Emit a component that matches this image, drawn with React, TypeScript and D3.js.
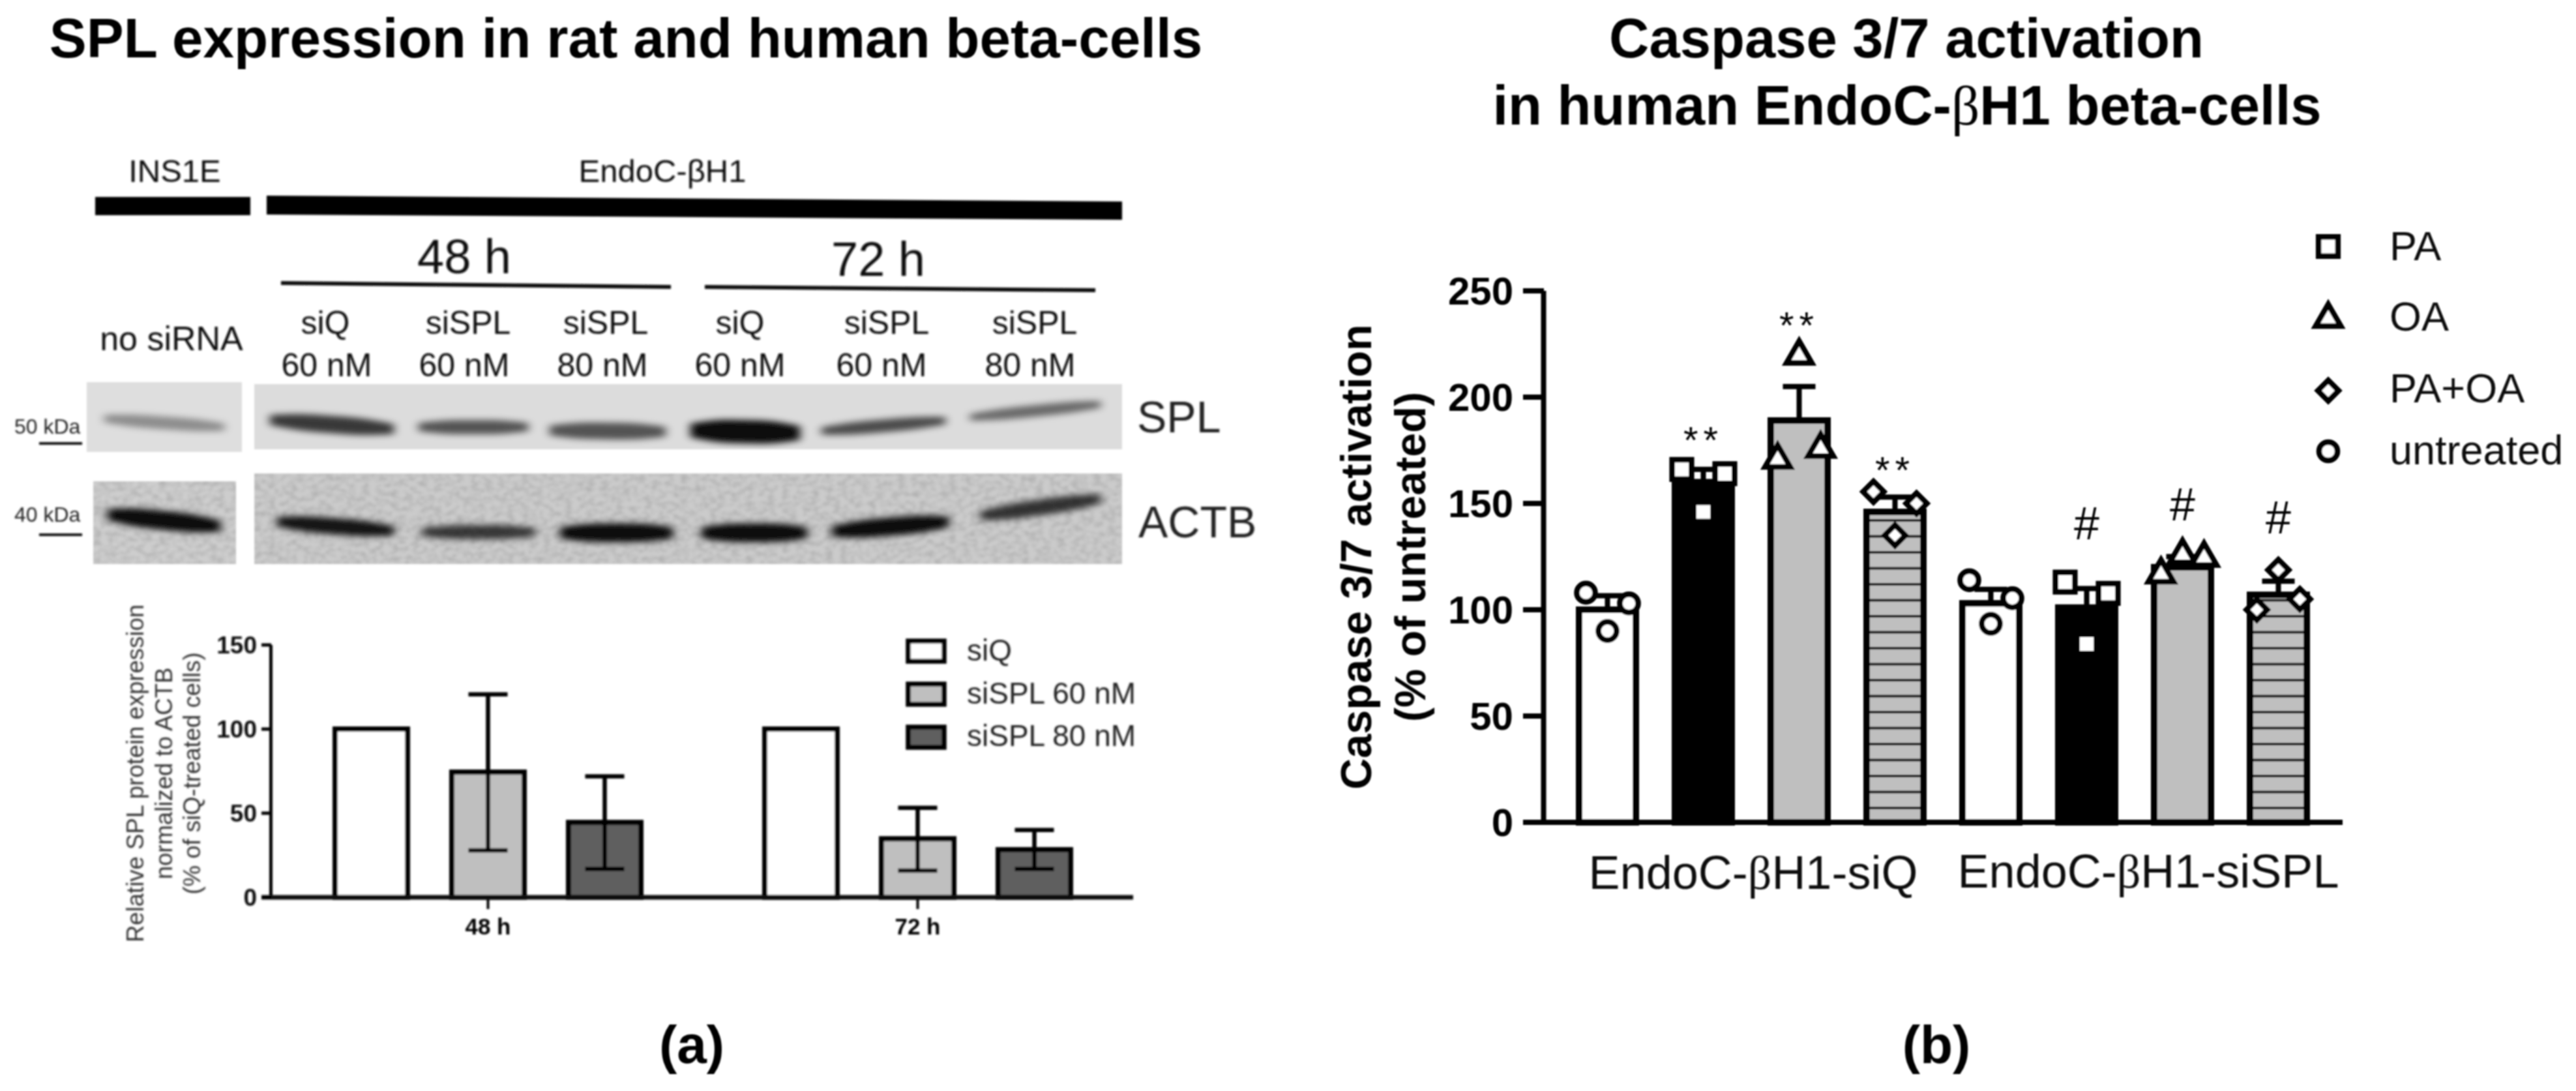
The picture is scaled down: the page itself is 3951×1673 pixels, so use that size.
import React from "react";
import * as d3 from "d3";

const FONT = "'Liberation Sans', Arial, sans-serif";

// Panel (a) chart
const timePoints = ["48 h", "72 h"];
const siSeries = ["siQ", "siSPL 60 nM", "siSPL 80 nM"];
const siFills = ["#ffffff", "#bfbfbf", "#5f5f5f"];
const splMean = [[100, 74.4, 44.5], [100, 34.8, 28.3]];
const splHigh = [[100, 120.6, 71.9], [100, 53.2, 40]];
const splLow = [[100, 27.9, 16.9], [100, 15.9, 16.9]];
const splTicks = [0, 50, 100, 150];

// Panel (a) blot bands: [x0, x1, y0, y1, thickness, darkness]
const splBands = [
  [160, 344, 642, 655, 20, 0.36],
  [414, 604, 644, 658, 27, 0.74],
  [642, 810, 655, 655, 22, 0.62],
  [843, 1021, 660, 662, 26, 0.62],
  [1059, 1227, 660, 664, 36, 0.95],
  [1260, 1450, 661, 645, 20, 0.66],
  [1488, 1688, 640, 620, 18, 0.52],
];
const actbBands = [
  [165, 338, 789, 807, 29, 0.95],
  [425, 604, 800, 814, 25, 0.9],
  [647, 821, 816, 816, 22, 0.72],
  [859, 1032, 817, 817, 29, 0.95],
  [1076, 1238, 817, 817, 29, 0.95],
  [1276, 1455, 815, 800, 28, 0.95],
  [1504, 1688, 791, 765, 24, 0.75],
];
const laneTop = ["siQ", "siSPL", "siSPL", "siQ", "siSPL", "siSPL"];
const laneBottom = ["60 nM", "60 nM", "80 nM", "60 nM", "60 nM", "80 nM"];

// Panel (b) chart
const caspaseBars = ["siQ-untreated", "siQ-PA", "siQ-OA", "siQ-PAOA", "siSPL-untreated", "siSPL-PA", "siSPL-OA", "siSPL-PAOA"];
const caspaseMean = [100, 160, 189, 146, 103, 101, 120, 107];
const caspaseErr = [106.6, 166, 205, 153, 109.6, 110, 125, 113.4];
const caspasePoints = [
  [108, 90, 103],
  [166, 146, 164],
  [170.6, 219.5, 175.7],
  [155.5, 135, 150],
  [113.9, 93.4, 105.4],
  [113, 83.9, 107.7],
  [116.6, 125.7, 124.4],
  [100, 118.7, 105],
];
const caspaseShapes = ["circle", "square", "triangle", "diamond", "circle", "square", "triangle", "diamond"];
const caspaseFills = ["#ffffff", "#000000", "#bfbfbf", "hatch", "#ffffff", "#000000", "#bfbfbf", "hatch"];
const caspaseMarks = ["", "**", "**", "**", "", "#", "#", "#"];
const markValues = [0, 184, 238, 170, 0, 141, 150, 144];
const caspaseTicks = [0, 50, 100, 150, 200, 250];
const legendShapes = ["square", "triangle", "diamond", "circle"];
const legendLabels = ["PA", "OA", "PA+OA", "untreated"];

const symbolFor = (shape: string) => {
  const gen = d3.symbol();
  if (shape === "circle") return gen.type(d3.symbolCircle).size(620)();
  if (shape === "square") return gen.type(d3.symbolSquare).size(880)();
  if (shape === "triangle") return gen.type(d3.symbolTriangle).size(640)();
  return gen.type(d3.symbolSquare).size(500)();
};

const Marker = ({ shape, x, y }: any) => (
  <path
    d={symbolFor(shape) as string}
    transform={`translate(${x},${y})${shape === "diamond" ? " rotate(45)" : ""}`}
    fill="#fff"
    stroke="#000"
    strokeWidth={8.5}
    strokeLinejoin="miter"
  />
);

function bandPath(b: number[]) {
  const [x0, x1, y0, y1, t] = b;
  const u = d3.scaleLinear().domain([0, 1]).range([x0, x1]);
  const v = d3.scaleLinear().domain([0, 1]).range([y0, y1]);
  const w = [0.6, 0.95, 1, 0.95, 0.6];
  return d3
    .area<number>()
    .x((d) => u(d))
    .y0((d, i) => v(d) - (t / 2) * w[i])
    .y1((d, i) => v(d) + (t / 2) * w[i])
    .curve(d3.curveCatmullRom)([0, 0.25, 0.5, 0.75, 1]) as string;
}

const Beta = () => <tspan fontFamily="'Liberation Serif', serif" fontWeight="normal">β</tspan>;

export default function App() {
  // chart (a)
  const ya = d3.scaleLinear().domain([0, 150]).range([1376, 989]);
  const xa = d3.scaleBand().domain(timePoints).range([419, 1737]);
  const xs = d3.scalePoint().domain(siSeries).range([-179, 179]);
  const barA = 111;
  // chart (b)
  const yb = d3.scaleLinear().domain([0, 250]).range([1261, 446]);
  const xb = d3.scalePoint().domain(caspaseBars).range([2392, 3568]).padding(0.5);
  const jitter = d3.scalePoint().domain(["l", "c", "r"]).range([-33, 33]);
  const jit = ["l", "c", "r"];
  const barB = 87;

  return (
    <svg
      width={3951}
      height={1673}
      viewBox="0 0 3951 1673"
      style={{ position: "absolute", left: 0, top: 0, background: "#fff" }}
      fontFamily={FONT}
    >
      <defs>
        <filter id="soft" x="-2%" y="-2%" width="104%" height="104%">
          <feGaussianBlur stdDeviation="1.6" />
        </filter>
        <filter id="softB" x="-2%" y="-2%" width="104%" height="104%">
          <feGaussianBlur stdDeviation="1.1" />
        </filter>
        <filter id="bandBlur" x="-20%" y="-100%" width="140%" height="300%">
          <feGaussianBlur stdDeviation="7 5" />
        </filter>
        <filter id="noise" x="0" y="0" width="100%" height="100%">
          <feTurbulence type="fractalNoise" baseFrequency="0.09 0.13" numOctaves="2" seed="4" />
          <feColorMatrix values="0 0 0 0 0  0 0 0 0 0  0 0 0 0 0  1.6 0 0 0 -0.6" />
          <feGaussianBlur stdDeviation="1" />
        </filter>
        <pattern id="hatch" width="40" height="24.5" patternUnits="userSpaceOnUse" patternTransform="translate(0,1239)">
          <rect width="40" height="24.5" fill="#bfbfbf" />
          <rect y="-2" width="40" height="4" fill="#1a1a1a" />
          <rect y="22.5" width="40" height="4" fill="#1a1a1a" />
        </pattern>
      </defs>

      <rect width={3951} height={1673} fill="#fff" />

      <g filter="url(#softB)">
        <text x={960} y={88} textAnchor="middle" fontSize={85.4} fontWeight="bold">SPL expression in rat and human beta-cells</text>
        <text x={2924} y={88} textAnchor="middle" fontSize={85} fontWeight="bold">Caspase 3/7 activation</text>
        <text x={2925} y={191} textAnchor="middle" fontSize={85} fontWeight="bold">in human EndoC-<Beta />H1 beta-cells</text>
        <text x={1061} y={1630} textAnchor="middle" fontSize={82} fontWeight="bold">(a)</text>
        <text x={2970} y={1630} textAnchor="middle" fontSize={82} fontWeight="bold">(b)</text>
      </g>

      <g filter="url(#soft)">
        {/* blot header */}
        <text x={268} y={279} textAnchor="middle" fontSize={49} fill="#111">INS1E</text>
        <text x={1016} y={279} textAnchor="middle" fontSize={49} fill="#111">EndoC-βH1</text>
        <path d="M146,302H384V330H146Z" fill="#000" />
        <path d="M409,300L1721,309V337L409,329Z" fill="#000" />
        <text x={712} y={419} textAnchor="middle" fontSize={74} fill="#111">48 h</text>
        <text x={1347} y={423} textAnchor="middle" fontSize={74} fill="#111">72 h</text>
        <path d="M431,434L1029,440M1081,440L1680,445" stroke="#111" strokeWidth={6} />
        <text x={263} y={537} textAnchor="middle" fontSize={52} fill="#111">no siRNA</text>
        {laneTop.map((t, i) => {
          const cx = [499, 718, 929, 1135, 1360, 1587][i];
          return <text key={i} x={cx} y={512} textAnchor="middle" fontSize={50} fill="#111">{t}</text>;
        })}
        {laneBottom.map((t, i) => {
          const cx = [501, 712, 924, 1135, 1352, 1580][i];
          return <text key={i} x={cx} y={577} textAnchor="middle" fontSize={50} fill="#111">{t}</text>;
        })}

        {/* blot panels */}
        <rect x={133} y={586} width={238} height={107} fill="#dedede" />
        <rect x={390} y={589} width={1331} height={100} fill="#dcdcdc" />
        <rect x={143} y={738} width={219} height={127} fill="#cdcdcd" />
        <rect x={390} y={726} width={1331} height={139} fill="#cbcbcb" />
        <g opacity={0.16}>
          <rect x={143} y={738} width={219} height={127} filter="url(#noise)" />
          <rect x={390} y={726} width={1331} height={139} filter="url(#noise)" />
        </g>
        {splBands.map((b, i) => (
          <path key={i} d={bandPath(b)} fill="#000" opacity={b[5]} filter="url(#bandBlur)" />
        ))}
        {actbBands.map((b, i) => (
          <path key={i} d={bandPath(b)} fill="#000" opacity={b[5]} filter="url(#bandBlur)" />
        ))}
        <text x={1744} y={663} fontSize={68} fill="#222">SPL</text>
        <text x={1746} y={824} fontSize={68} fill="#222">ACTB</text>
        <text x={22} y={665} fontSize={32} fill="#222">50 kDa</text>
        <text x={22} y={800} fontSize={32} fill="#222">40 kDa</text>
        <path d="M60,680H126M60,820H126" stroke="#111" strokeWidth={4} />

        {/* chart (a) */}
        <g transform="translate(220,1186) rotate(-90)">
          <text textAnchor="middle" fontSize={36.5} fill="#333">Relative SPL protein expression</text>
        </g>
        <g transform="translate(264,1186) rotate(-90)">
          <text textAnchor="middle" fontSize={36.5} fill="#333">normalized to ACTB</text>
        </g>
        <g transform="translate(307,1186) rotate(-90)">
          <text textAnchor="middle" fontSize={36.5} fill="#333">(% of siQ-treated cells)</text>
        </g>
        {timePoints.map((t, g) => {
          const cx = (xa(t) as number) + xa.bandwidth() / 2;
          return (
            <g key={t}>
              {siSeries.map((s, i) => {
                const x = cx + (xs(s) as number);
                return (
                  <g key={s}>
                    <rect x={x - barA / 2} y={ya(splMean[g][i])} width={barA} height={ya(0) - ya(splMean[g][i])} fill={siFills[i]} stroke="#000" strokeWidth={8} />
                    {i > 0 && (
                      <path
                        d={`M${x},${ya(splHigh[g][i])}V${ya(splLow[g][i])}M${x - 30},${ya(splHigh[g][i])}H${x + 30}M${x - 30},${ya(splLow[g][i])}H${x + 30}`}
                        stroke="#000"
                        strokeWidth={6.5}
                        fill="none"
                      />
                    )}
                  </g>
                );
              })}
              <path d={`M${cx},${ya(0)}V1394`} stroke="#000" strokeWidth={4} />
              <text x={cx} y={1433} textAnchor="middle" fontSize={35} fontWeight="bold">{t}</text>
            </g>
          );
        })}
        <path d={`M415.5,${ya(150)}V${ya(0)}`} stroke="#000" strokeWidth={5} />
        <path d={`M401,${ya(0)}H1738`} stroke="#111" strokeWidth={7} />
        {splTicks.map((t) => (
          <g key={t}>
            <path d={`M401,${ya(t)}H416`} stroke="#000" strokeWidth={5} />
            <text x={394} y={ya(t) + 13} textAnchor="end" fontSize={37} fontWeight="bold" fill="#111">{t}</text>
          </g>
        ))}
        {siSeries.map((s, i) => {
          const top = 983 + i * 66;
          const baseline = 1013 + i * 65.5;
          return (
            <g key={s}>
              <rect x={1393} y={top} width={55} height={31} fill={siFills[i]} stroke="#000" strokeWidth={7.5} />
              <text x={1483} y={baseline} fontSize={46} fill="#222">{s}</text>
            </g>
          );
        })}
      </g>

      <g filter="url(#softB)">
        {/* chart (b) */}
        <g transform="translate(2103,854) rotate(-90)">
          <text textAnchor="middle" fontSize={66.5} fontWeight="bold">Caspase 3/7 activation</text>
        </g>
        <g transform="translate(2186,854) rotate(-90)">
          <text textAnchor="middle" fontSize={66.5} fontWeight="bold">(% of untreated)</text>
        </g>
        {caspaseBars.map((b, i) => {
          const x = xb(b) as number;
          const fill = caspaseFills[i] === "hatch" ? "url(#hatch)" : caspaseFills[i];
          return (
            <g key={b}>
              <rect x={x - barB / 2} y={yb(caspaseMean[i])} width={barB} height={yb(0) - yb(caspaseMean[i])} fill={fill} stroke="#000" strokeWidth={10} />
              <path
                d={`M${x},${yb(caspaseMean[i])}V${yb(caspaseErr[i])}M${x - 25},${yb(caspaseErr[i])}H${x + 25}`}
                stroke="#000"
                strokeWidth={8}
                fill="none"
              />
            </g>
          );
        })}
        {caspaseBars.map((b, i) => (
          <g key={b}>
            {caspasePoints[i].map((v, k) => (
              <Marker key={k} shape={caspaseShapes[i]} x={(xb(b) as number) + (jitter(jit[k]) as number)} y={yb(v)} />
            ))}
          </g>
        ))}
        {caspaseBars.map((b, i) =>
          caspaseMarks[i] ? (
            <text
              key={b}
              x={xb(b) as number}
              y={yb(markValues[i]) + (caspaseMarks[i] === "#" ? 26 : 34)}
              textAnchor="middle"
              fontSize={caspaseMarks[i] === "#" ? 70 : 58}
              letterSpacing={caspaseMarks[i] === "#" ? 0 : 8}
            >
              {caspaseMarks[i]}
            </text>
          ) : null
        )}
        <path d={`M2367.5,${yb(250)}V${yb(0)}`} stroke="#000" strokeWidth={8} />
        <path d={`M2336,${yb(0)}H3593`} stroke="#000" strokeWidth={8} />
        {caspaseTicks.map((t) => (
          <g key={t}>
            <path d={`M2336,${yb(t)}H2368`} stroke="#000" strokeWidth={8} />
            <text x={2321} y={yb(t) + 21} textAnchor="end" fontSize={60} fontWeight="bold">{t}</text>
          </g>
        ))}
        <text x={2689} y={1363} textAnchor="middle" fontSize={72} fill="#111">EndoC-<Beta />H1-siQ</text>
        <text x={3295} y={1361} textAnchor="middle" fontSize={72} fill="#111">EndoC-<Beta />H1-siSPL</text>
        {legendLabels.map((l, i) => (
          <g key={l}>
            <Marker shape={legendShapes[i]} x={3571} y={[378, 489, 599, 692][i]} />
            <text x={3665} y={[399, 507, 617, 712][i]} fontSize={63} fill="#111">{l}</text>
          </g>
        ))}
      </g>
    </svg>
  );
}
